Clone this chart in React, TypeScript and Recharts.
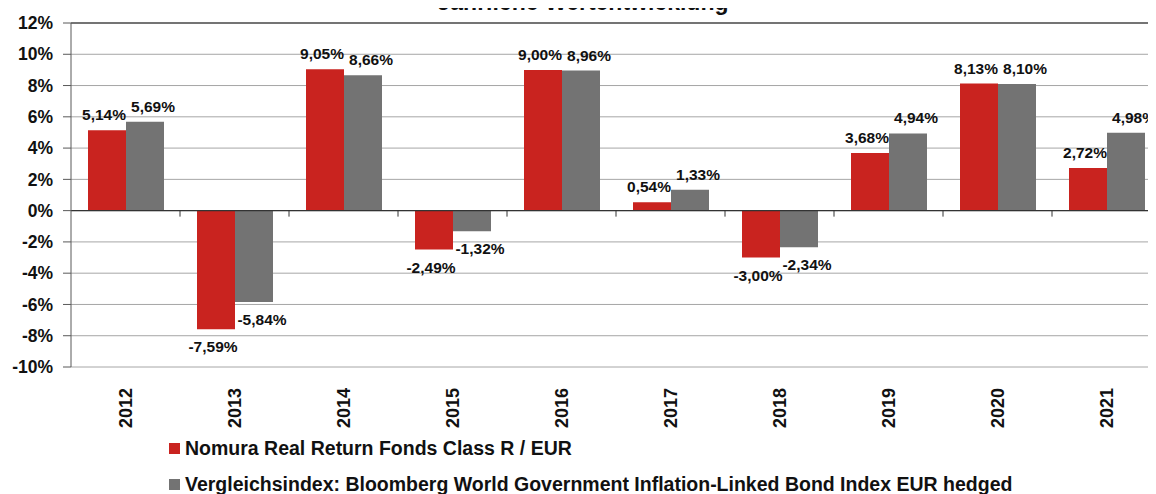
import React from 'react';
import { BarChart, Bar, XAxis, YAxis, CartesianGrid, ReferenceLine, LabelList } from 'recharts';

const years = ['2012', '2013', '2014', '2015', '2016', '2017', '2018', '2019', '2020', '2021'];
const fundValues = [5.14, -7.59, 9.05, -2.49, 9.0, 0.54, -3.0, 3.68, 8.13, 2.72];
const indexValues = [5.69, -5.84, 8.66, -1.32, 8.96, 1.33, -2.34, 4.94, 8.1, 4.98];
const yTicks = [-10, -8, -6, -4, -2, 0, 2, 4, 6, 8, 10, 12];
const fundName = 'Nomura Real Return Fonds Class R / EUR';
const indexName = 'Vergleichsindex: Bloomberg World Government Inflation-Linked Bond Index EUR hedged';
const title = 'Jährliche Wertentwicklung';

const RED = '#C9231F';
const GRAY = '#737373';
const FONT = '"Liberation Sans", Arial, sans-serif';

const data = years.map((y, i) => ({ year: y, fund: fundValues[i], index: indexValues[i] }));
const legendItems = [
  { name: fundName, color: RED },
  { name: indexName, color: GRAY },
];

const fmt = (v: number) => v.toFixed(2).replace('.', ',') + '%';

const makeLabel = (dx: number) => (props: any) => {
  const { x, y, width, height, value } = props;
  const top = Math.min(y, y + height);
  const bottom = Math.max(y, y + height);
  const cx = x + width / 2 + dx;
  const ty = value >= 0 ? top - 10 : bottom + 23;
  return (
    <text x={cx} y={ty} textAnchor="middle" fontFamily={FONT} fontWeight="bold" fontSize={15.5} fill="#111">
      {fmt(value)}
    </text>
  );
};

const ZeroTicks = (props: any) => {
  const vb = props.viewBox || {};
  const n = years.length;
  const step = vb.width / n;
  const items = [];
  for (let i = 1; i <= n; i++) {
    const xx = vb.x + step * i;
    items.push(<line key={i} x1={xx} x2={xx} y1={vb.y} y2={vb.y + 6} stroke="#333" strokeWidth={1} />);
  }
  return <g>{items}</g>;
};

const XTick = (props: any) => {
  const { x, y, payload } = props;
  return (
    <text
      x={x}
      y={y + 13}
      transform={`rotate(-90 ${x} ${y + 13})`}
      textAnchor="end"
      dominantBaseline="central"
      fontFamily={FONT}
      fontWeight="bold"
      fontSize={18}
      fill="#111"
    >
      {payload.value}
    </text>
  );
};

export default function App() {
  return (
    <div style={{ position: 'relative', margin: '-8px 0 0 -8px', width: 1156, height: 494, overflow: 'hidden', background: '#fff' }}>
      <BarChart
        width={1162}
        height={494}
        data={data}
        margin={{ top: 23, right: 1, bottom: 87, left: 0 }}
        barCategoryGap={17}
        barGap={0}
      >
        <CartesianGrid vertical={false} stroke="#A6A6A6" strokeWidth={1} />
        <XAxis
          dataKey="year"
          axisLine={false}
          tickLine={false}
          interval={0}
          tick={<XTick />}
          height={40}
        />
        <YAxis
          width={71}
          domain={[-10, 12]}
          ticks={yTicks}
          interval={0}
          tickFormatter={(v: number) => `${v}%`}
          axisLine={{ stroke: '#595959', strokeWidth: 1 }}
          tickLine={{ stroke: '#595959' }}
          tickSize={8}
          tickMargin={10}
          tick={{ fontFamily: FONT, fontWeight: 'bold', fontSize: 17.5, fill: '#111' }}
        />
        <Bar dataKey="fund" name={fundName} fill={RED} isAnimationActive={false}>
          <LabelList dataKey="fund" content={makeLabel(-3)} />
        </Bar>
        <Bar dataKey="index" name={indexName} fill={GRAY} isAnimationActive={false}>
          <LabelList dataKey="index" content={makeLabel(8)} />
        </Bar>
        <ReferenceLine y={12} stroke="#555" strokeWidth={1.5} />
        <ReferenceLine y={0} stroke="#333" strokeWidth={1.2} label={<ZeroTicks />} />
      </BarChart>
      <div
        style={{
          position: 'absolute',
          zIndex: 2,
          left: 0,
          width: 1166,
          top: -10,
          textAlign: 'center',
          fontFamily: FONT,
          fontWeight: 'bold',
          fontSize: 23,
          lineHeight: '24px',
          color: '#111',
        }}
      >
        {title}
      </div>
      <div
        style={{
          position: 'absolute',
          zIndex: 2,
          left: 169,
          top: 430,
          fontFamily: FONT,
          fontWeight: 'bold',
          fontSize: 19.5,
          color: '#111',
        }}
      >
        {legendItems.map((it, i) => (
          <div key={i} style={{ display: 'flex', alignItems: 'center', height: 36, whiteSpace: 'nowrap' }}>
            <span style={{ display: 'inline-block', width: 11, height: 11, background: it.color, marginRight: 5 }} />
            <span>{it.name}</span>
          </div>
        ))}
      </div>
    </div>
  );
}
